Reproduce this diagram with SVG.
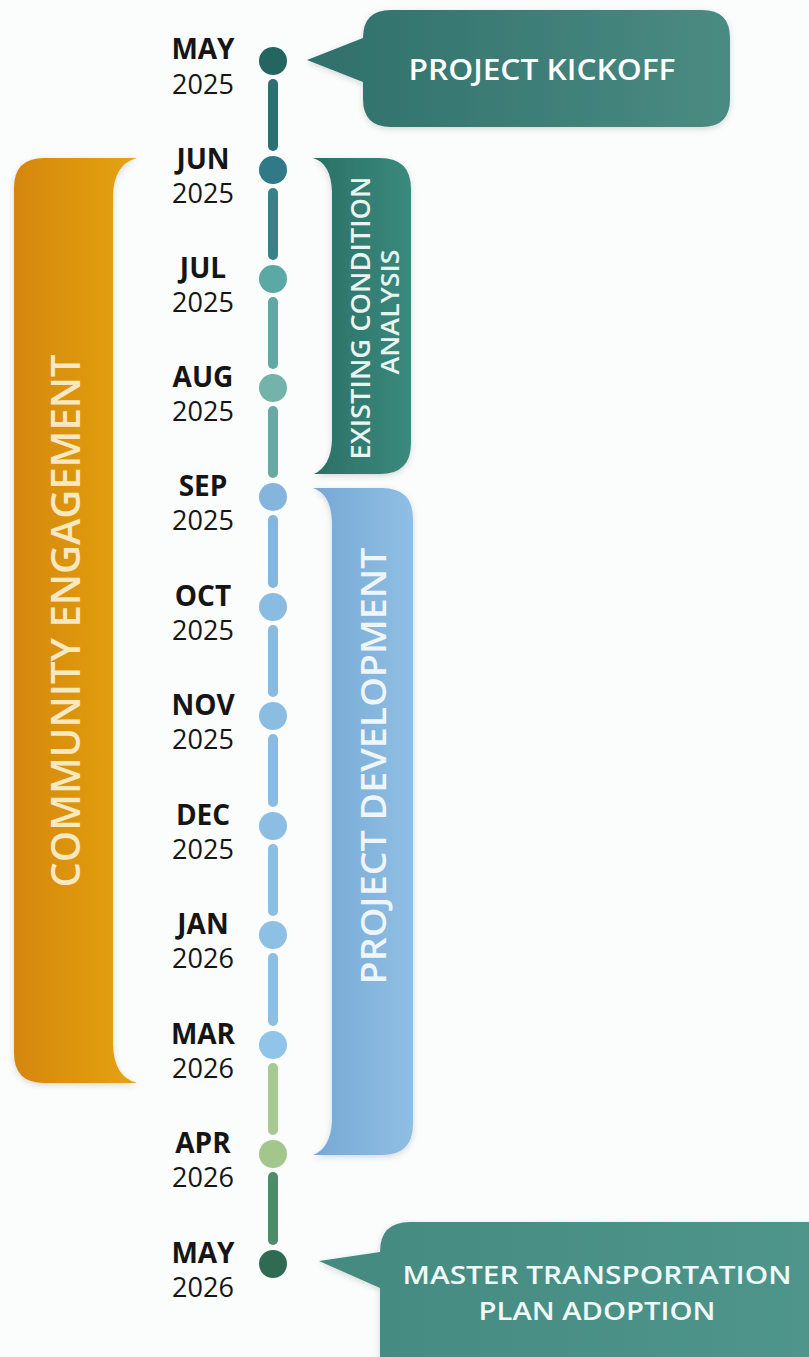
<svg xmlns="http://www.w3.org/2000/svg" width="809" height="1357" viewBox="0 0 809 1357">
<defs>
<linearGradient id="gOrange" x1="0" y1="0" x2="1" y2="0"><stop offset="0" stop-color="#d5860f"/><stop offset="1" stop-color="#e4a412"/></linearGradient>
<linearGradient id="gTeal" x1="0" y1="0" x2="1" y2="0"><stop offset="0" stop-color="#2a6f66"/><stop offset="1" stop-color="#3b8a7d"/></linearGradient>
<linearGradient id="gBlue" x1="0" y1="0" x2="1" y2="0"><stop offset="0" stop-color="#77a8d4"/><stop offset="1" stop-color="#8fbfe3"/></linearGradient>
<linearGradient id="gKick" x1="0" y1="0" x2="1" y2="0"><stop offset="0" stop-color="#2f706b"/><stop offset="1" stop-color="#4a8b82"/></linearGradient>
<linearGradient id="gAdopt" x1="0" y1="0" x2="1" y2="0"><stop offset="0" stop-color="#448a80"/><stop offset="1" stop-color="#4f958b"/></linearGradient>
<filter id="sh" x="-10%" y="-10%" width="130%" height="130%"><feDropShadow dx="0" dy="2" stdDeviation="3" flood-color="#000" flood-opacity="0.15"/></filter>
</defs>
<style>
.mon{font-family:"Open Sans","Liberation Sans",sans-serif;font-weight:700;font-size:28px;fill:#151515;text-anchor:middle}
.yr{font-family:"Open Sans","Liberation Sans",sans-serif;font-weight:400;font-size:27px;fill:#151515;text-anchor:middle}
.lbl{font-family:"Open Sans","Liberation Sans",sans-serif;font-weight:600;fill:#ffffff;text-anchor:middle}
.bar{stroke-width:10;stroke-linecap:round;fill:none}
</style>
<rect width="809" height="1357" fill="#fbfcfc"/>

<g id="community-engagement">
<path d="M44,158 L137,158 Q114,164 113,195 L113,1045 Q114,1077 137,1083 L44,1083 Q14,1083 14,1053 L14,188 Q14,158 44,158 Z" fill="url(#gOrange)" filter="url(#sh)"/>
<text class="lbl" font-size="39" transform="translate(80,621) rotate(-90)" textLength="533" lengthAdjust="spacingAndGlyphs" style="fill:#f8e8c0">COMMUNITY ENGAGEMENT</text>
</g>

<g id="existing-condition-analysis">
<path d="M313,158 L380,158 Q411,158 411,189 L411,443 Q411,474 380,474 L314,474 Q331,466 332,440 L332,192 Q331,163 313,158 Z" fill="url(#gTeal)" filter="url(#sh)"/>
<text class="lbl" font-size="27" transform="translate(370,318) rotate(-90)" textLength="283" lengthAdjust="spacingAndGlyphs" style="fill:#e8f4f0">EXISTING CONDITION</text>
<text class="lbl" font-size="25" transform="translate(399,312) rotate(-90)" textLength="125" lengthAdjust="spacingAndGlyphs" style="fill:#e8f4f0">ANALYSIS</text>
</g>

<g id="project-development">
<path d="M313,488 L382,488 Q413,488 413,519 L413,1124 Q413,1155 382,1155 L313,1155 Q331,1148 332,1120 L332,522 Q331,494 313,488 Z" fill="url(#gBlue)" filter="url(#sh)"/>
<text class="lbl" font-size="35" transform="translate(386,766) rotate(-90)" textLength="437" lengthAdjust="spacingAndGlyphs" style="fill:#eef6fc">PROJECT DEVELOPMENT</text>
</g>

<g id="project-kickoff">
<path d="M391,10 L702,10 Q730,10 730,38 L730,99 Q730,127 702,127 L391,127 Q363,127 363,99 L363,82 L307,60 L363,38 L363,38 Q363,10 391,10 Z" fill="url(#gKick)" filter="url(#sh)"/>
<text class="lbl" font-size="28" x="542" y="80" textLength="267" lengthAdjust="spacingAndGlyphs">PROJECT KICKOFF</text>
</g>

<g id="plan-adoption">
<path d="M410,1222 L820,1222 L820,1370 L380,1370 L380,1288 L319,1261 L380,1252 L380,1252 Q380,1222 410,1222 Z" fill="url(#gAdopt)" filter="url(#sh)"/>
<text class="lbl" font-size="26" x="597" y="1284" textLength="389" lengthAdjust="spacingAndGlyphs" style="fill:#eefaf8">MASTER TRANSPORTATION</text>
<text class="lbl" font-size="26" x="597" y="1320" textLength="237" lengthAdjust="spacingAndGlyphs" style="fill:#eefaf8">PLAN ADOPTION</text>
</g>

<g id="connectors">
<line class="bar" x1="273" y1="84" x2="273" y2="146" stroke="#2c7074"/>
<line class="bar" x1="273" y1="193" x2="273" y2="255" stroke="#3b8088"/>
<line class="bar" x1="273" y1="302" x2="273" y2="364" stroke="#5fa8a3"/>
<line class="bar" x1="273" y1="411" x2="273" y2="473" stroke="#6aa8a4"/>
<line class="bar" x1="273" y1="520" x2="273" y2="583" stroke="#86b6dc"/>
<line class="bar" x1="273" y1="630" x2="273" y2="692" stroke="#8bbadf"/>
<line class="bar" x1="273" y1="739" x2="273" y2="802" stroke="#8bbbe0"/>
<line class="bar" x1="273" y1="849" x2="273" y2="911" stroke="#8dbde1"/>
<line class="bar" x1="273" y1="958" x2="273" y2="1021" stroke="#8ebfe3"/>
<line class="bar" x1="273" y1="1068" x2="273" y2="1130" stroke="#a8c992"/>
<line class="bar" x1="273" y1="1177" x2="273" y2="1240" stroke="#4f8b66"/>
</g>

<g id="m-may-2025"><circle cx="273" cy="61" r="14" fill="#25655f"/><text class="mon" x="203" y="59">MAY</text><text class="yr" x="203" y="94">2025</text></g>
<g id="m-jun-2025"><circle cx="273" cy="170" r="14" fill="#2f7a86"/><text class="mon" x="203" y="169">JUN</text><text class="yr" x="203" y="203">2025</text></g>
<g id="m-jul-2025"><circle cx="273" cy="279" r="14" fill="#5aa9a4"/><text class="mon" x="203" y="278">JUL</text><text class="yr" x="203" y="312">2025</text></g>
<g id="m-aug-2025"><circle cx="273" cy="388" r="14" fill="#74b3aa"/><text class="mon" x="203" y="387">AUG</text><text class="yr" x="203" y="421">2025</text></g>
<g id="m-sep-2025"><circle cx="273" cy="497" r="14" fill="#85b5dc"/><text class="mon" x="203" y="496">SEP</text><text class="yr" x="203" y="530">2025</text></g>
<g id="m-oct-2025"><circle cx="273" cy="607" r="14" fill="#8abce2"/><text class="mon" x="203" y="606">OCT</text><text class="yr" x="203" y="640">2025</text></g>
<g id="m-nov-2025"><circle cx="273" cy="716" r="14" fill="#8bbde3"/><text class="mon" x="203" y="715">NOV</text><text class="yr" x="203" y="749">2025</text></g>
<g id="m-dec-2025"><circle cx="273" cy="826" r="14" fill="#8cbee4"/><text class="mon" x="203" y="825">DEC</text><text class="yr" x="203" y="859">2025</text></g>
<g id="m-jan-2026"><circle cx="273" cy="935" r="14" fill="#8dc0e5"/><text class="mon" x="203" y="934">JAN</text><text class="yr" x="203" y="968">2026</text></g>
<g id="m-mar-2026"><circle cx="273" cy="1045" r="14" fill="#90c4e8"/><text class="mon" x="203" y="1044">MAR</text><text class="yr" x="203" y="1078">2026</text></g>
<g id="m-apr-2026"><circle cx="273" cy="1154" r="14" fill="#a3c68c"/><text class="mon" x="203" y="1153">APR</text><text class="yr" x="203" y="1187">2026</text></g>
<g id="m-may-2026"><circle cx="273" cy="1264" r="14" fill="#2f6b52"/><text class="mon" x="203" y="1263">MAY</text><text class="yr" x="203" y="1297">2026</text></g>
</svg>
